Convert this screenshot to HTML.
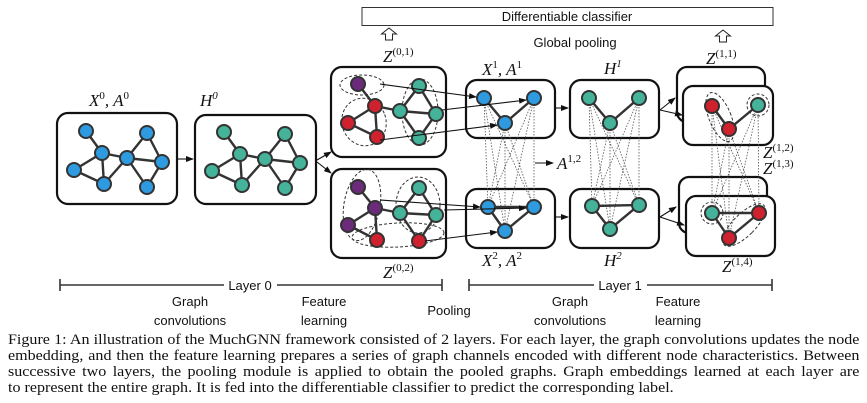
<!DOCTYPE html>
<html><head><meta charset="utf-8"><style>
body{margin:0;background:#fff;width:867px;height:403px;overflow:hidden;position:relative}
svg{position:absolute;left:0;top:0}
.cap{position:absolute;left:8px;width:774px;transform:scaleX(1.1);transform-origin:0 0;font-family:"Liberation Serif",serif;font-size:14.6px;line-height:16px;color:#111;white-space:nowrap}
.j{text-align:justify;text-align-last:justify;white-space:normal;height:16px;overflow:hidden}
</style></head><body>
<svg width="867" height="403" viewBox="0 0 867 403" xmlns="http://www.w3.org/2000/svg">
<defs>
<marker id="ar" markerWidth="8" markerHeight="6" refX="7" refY="3" orient="auto" markerUnits="userSpaceOnUse"><path d="M0,0 L8,3 L0,6z" fill="#111"/></marker>
</defs>
<g font-family="Liberation Sans, sans-serif" fill="#111">
<rect x="362" y="7.5" width="411" height="18" fill="#fff" stroke="#333" stroke-width="1"/>
<text x="567" y="21" font-size="13" text-anchor="middle">Differentiable classifier</text>
<path d="M385.5,40 v-6 h-4 l7.5,-6 l7.5,6 h-4 v6z" fill="#fff" stroke="#222" stroke-width="1"/>
<path d="M719.5,42 v-6 h-4 l7.5,-6 l7.5,6 h-4 v6z" fill="#fff" stroke="#222" stroke-width="1"/>
<text x="575" y="47" font-size="13" text-anchor="middle">Global pooling</text>
</g>
<g font-family="Liberation Serif, serif" font-style="italic" fill="#111" font-size="17">
<text x="89" y="106">X<tspan font-size="11" dy="-7" font-style="normal">0</tspan><tspan dy="7">, A</tspan><tspan font-size="11" dy="-7" font-style="normal">0</tspan></text>
<text x="200" y="106">H<tspan font-size="11" dy="-7">0</tspan></text>
<text x="383" y="62">Z<tspan font-size="11" dy="-7" font-style="normal">(0,1)</tspan></text>
<text x="383" y="278">Z<tspan font-size="11" dy="-7" font-style="normal">(0,2)</tspan></text>
<text x="482" y="75">X<tspan font-size="11" dy="-7" font-style="normal">1</tspan><tspan dy="7">, A</tspan><tspan font-size="11" dy="-7" font-style="normal">1</tspan></text>
<text x="604" y="74">H<tspan font-size="11" dy="-7">1</tspan></text>
<text x="706" y="64">Z<tspan font-size="11" dy="-7" font-style="normal">(1,1)</tspan></text>
<text x="482" y="266">X<tspan font-size="11" dy="-7" font-style="normal">2</tspan><tspan dy="7">, A</tspan><tspan font-size="11" dy="-7" font-style="normal">2</tspan></text>
<text x="604" y="266">H<tspan font-size="11" dy="-7">2</tspan></text>
<text x="557" y="169">A<tspan font-size="11" dy="-7" font-style="normal">1,2</tspan></text>
<text x="763" y="158">Z<tspan font-size="11" dy="-7" font-style="normal">(1,2)</tspan></text>
<text x="763" y="174">Z<tspan font-size="11" dy="-7" font-style="normal">(1,3)</tspan></text>
<text x="722" y="272">Z<tspan font-size="11" dy="-7" font-style="normal">(1,4)</tspan></text>
</g>
<g fill="#fff" stroke="#111" stroke-width="2.2">
<rect x="57" y="113" width="120" height="91" rx="11"/>
<rect x="195" y="115" width="121" height="89" rx="11"/>
<rect x="331" y="67" width="115" height="90" rx="11"/>
<rect x="331" y="169" width="115" height="89" rx="11"/>
<rect x="466" y="80" width="89" height="58" rx="11"/>
<rect x="570" y="80" width="89" height="58" rx="11"/>
<rect x="466" y="189" width="89" height="59" rx="11"/>
<rect x="570" y="189" width="89" height="59" rx="11"/>
<rect x="677" y="67" width="88" height="55" rx="10"/>
<rect x="683" y="86" width="90" height="59" rx="10"/>
<rect x="679" y="177" width="88" height="56" rx="10"/>
<rect x="686" y="196" width="89" height="60" rx="10"/>
</g>
<g stroke="#555" stroke-width="0.8" stroke-dasharray="1.5,1.5" fill="none">
<path d="M484,98L488,207M484,98L534,207M484,98L505,231M534,98L488,207M534,98L534,207M534,98L505,231M505,123L488,207M505,123L534,207M505,123L505,231"/>
<path d="M589,98L592,206M589,98L639,205M589,98L610,229M639,98L592,206M639,98L639,205M639,98L610,229M610,123L592,206M610,123L639,205M610,123L610,229"/>
<path d="M712,106L712,213M712,106L759,213M712,106L729,238M758,105L712,213M758,105L759,213M758,105L729,238M729,129L712,213M729,129L759,213M729,129L729,238"/>
</g>
<g stroke="#333" stroke-width="2.4" fill="none">
<path d="M86,131L102,153M102,153L74,170M74,170L104,184M102,153L104,184M102,153L127,158M104,184L127,158M127,158L147,133M147,133L162,162M127,158L162,162M162,162L147,187M127,158L147,187"/>
<g transform="translate(138,1)"><path d="M86,131L102,153M102,153L74,170M74,170L104,184M102,153L104,184M102,153L127,158M104,184L127,158M127,158L147,133M147,133L162,162M127,158L162,162M162,162L147,187M127,158L147,187"/></g>
<path d="M358,84L375,106M375,106L348,123M348,123L377,137M375,106L377,137M375,106L400,111M400,111L419,86M419,86L436,114M400,111L436,114M400,111L419,138M419,138L436,114"/>
<path d="M358,187L375,208M375,208L348,225M348,225L377,240M375,208L377,240M375,208L400,213M400,213L419,188M419,188L436,215M400,213L436,215M400,213L419,241M419,241L436,215"/>
<path d="M484,98L505,123L534,98M589,98L610,123L639,98M488,207L534,207L505,231L488,207M592,206L639,205L610,229L592,206M712,106L729,129L758,105M712,213L759,213L729,238L712,213"/>
</g>
<g stroke="#333" stroke-width="1" stroke-dasharray="3,2" fill="none">
<ellipse cx="362" cy="85" rx="22" ry="10"/>
<ellipse cx="364" cy="122" rx="22" ry="24" transform="rotate(-20 364 122)"/>
<ellipse cx="420" cy="112" rx="18" ry="33"/>
<ellipse cx="362" cy="205" rx="18" ry="36" transform="rotate(10 362 205)"/>
<ellipse cx="418" cy="205" rx="22" ry="28"/>
<ellipse cx="398" cy="235" rx="46" ry="12" transform="rotate(-3 398 235)"/>
<ellipse cx="720" cy="117" rx="11" ry="26" transform="rotate(-22 720 117)"/>
<circle cx="758" cy="105" r="11"/>
<circle cx="712" cy="213" r="11"/>
<ellipse cx="744" cy="225" rx="11" ry="28" transform="rotate(45 744 225)"/>
</g>
<g stroke="#333" stroke-width="2">
<g fill="#2e9be0"><circle cx="86" cy="131" r="7"/><circle cx="102" cy="153" r="7"/><circle cx="74" cy="170" r="7"/><circle cx="104" cy="184" r="7"/><circle cx="127" cy="158" r="7"/><circle cx="147" cy="133" r="7"/><circle cx="162" cy="162" r="7"/><circle cx="147" cy="187" r="7"/>
<circle cx="484" cy="98" r="7"/><circle cx="534" cy="98" r="7"/><circle cx="505" cy="123" r="7"/><circle cx="488" cy="207" r="7"/><circle cx="534" cy="207" r="7"/><circle cx="505" cy="231" r="7"/></g>
<g fill="#45b39a" transform="translate(138,1)"><circle cx="86" cy="131" r="7"/><circle cx="102" cy="153" r="7"/><circle cx="74" cy="170" r="7"/><circle cx="104" cy="184" r="7"/><circle cx="127" cy="158" r="7"/><circle cx="147" cy="133" r="7"/><circle cx="162" cy="162" r="7"/><circle cx="147" cy="187" r="7"/></g>
<g fill="#45b39a"><circle cx="400" cy="111" r="7"/><circle cx="419" cy="86" r="7"/><circle cx="436" cy="114" r="7"/><circle cx="419" cy="138" r="7"/>
<circle cx="400" cy="213" r="7"/><circle cx="419" cy="188" r="7"/><circle cx="436" cy="215" r="7"/>
<circle cx="589" cy="98" r="7"/><circle cx="639" cy="98" r="7"/><circle cx="610" cy="123" r="7"/><circle cx="592" cy="206" r="7"/><circle cx="639" cy="205" r="7"/><circle cx="610" cy="229" r="7"/>
<circle cx="758" cy="105" r="7"/><circle cx="712" cy="213" r="7"/></g>
<g fill="#6b2b7a"><circle cx="358" cy="84" r="7"/><circle cx="358" cy="187" r="7"/><circle cx="375" cy="208" r="7"/><circle cx="348" cy="225" r="7"/></g>
<g fill="#cf212e"><circle cx="375" cy="106" r="7"/><circle cx="348" cy="123" r="7"/><circle cx="377" cy="137" r="7"/><circle cx="377" cy="240" r="7"/><circle cx="419" cy="241" r="7"/>
<circle cx="712" cy="106" r="7"/><circle cx="729" cy="129" r="7"/><circle cx="759" cy="213" r="7"/><circle cx="729" cy="238" r="7"/></g>
</g>
<g stroke="#111" stroke-width="1.1" fill="none" marker-end="url(#ar)">
<path d="M178,159L193,159"/><path d="M317,160L331,152"/><path d="M317,162L331,173"/>
<path d="M380,84L476,97"/><path d="M442,110L526,100"/><path d="M380,140L497,125"/>
<path d="M380,200L480,207"/><path d="M444,210L526,208"/><path d="M425,241L497,232"/>
<path d="M556,108L568,108"/><path d="M556,217L568,217"/>
<path d="M535,163L553,163"/>
<path d="M660,110L675,98"/><path d="M660,110L682,115"/><path d="M660,217L676,207"/><path d="M660,217L684,225"/>
</g>
<g stroke="#333" stroke-width="1.6">
<path d="M60,285H442M60,279V291M442,279V291"/>
<path d="M469,285H772M469,279V291M772,279V291"/>
</g>
<g font-family="Liberation Sans, sans-serif" font-size="13" fill="#111" text-anchor="middle">
<rect x="224" y="277" width="53" height="14" fill="#fff"/>
<text x="250" y="290">Layer 0</text>
<rect x="594" y="277" width="53" height="14" fill="#fff"/>
<text x="620" y="290">Layer 1</text>
<text x="190" y="306">Graph</text><text x="190" y="325">convolutions</text>
<text x="324" y="306">Feature</text><text x="324" y="325">learning</text>
<text x="449" y="315">Pooling</text>
<text x="570" y="306">Graph</text><text x="570" y="325">convolutions</text>
<text x="678" y="306">Feature</text><text x="678" y="325">learning</text>
</g>
</svg>
<div class="cap j" style="top:332px">Figure 1: An illustration of the MuchGNN framework consisted of 2 layers. For each layer, the graph convolutions updates the node</div>
<div class="cap j" style="top:348px">embedding, and then the feature learning prepares a series of graph channels encoded with different node characteristics. Between the</div>
<div class="cap j" style="top:364px">successive two layers, the pooling module is applied to obtain the pooled graphs. Graph embeddings learned at each layer are concatenated</div>
<div class="cap" style="top:380px">to represent the entire graph. It is fed into the differentiable classifier to predict the corresponding label.</div>
</body></html>
